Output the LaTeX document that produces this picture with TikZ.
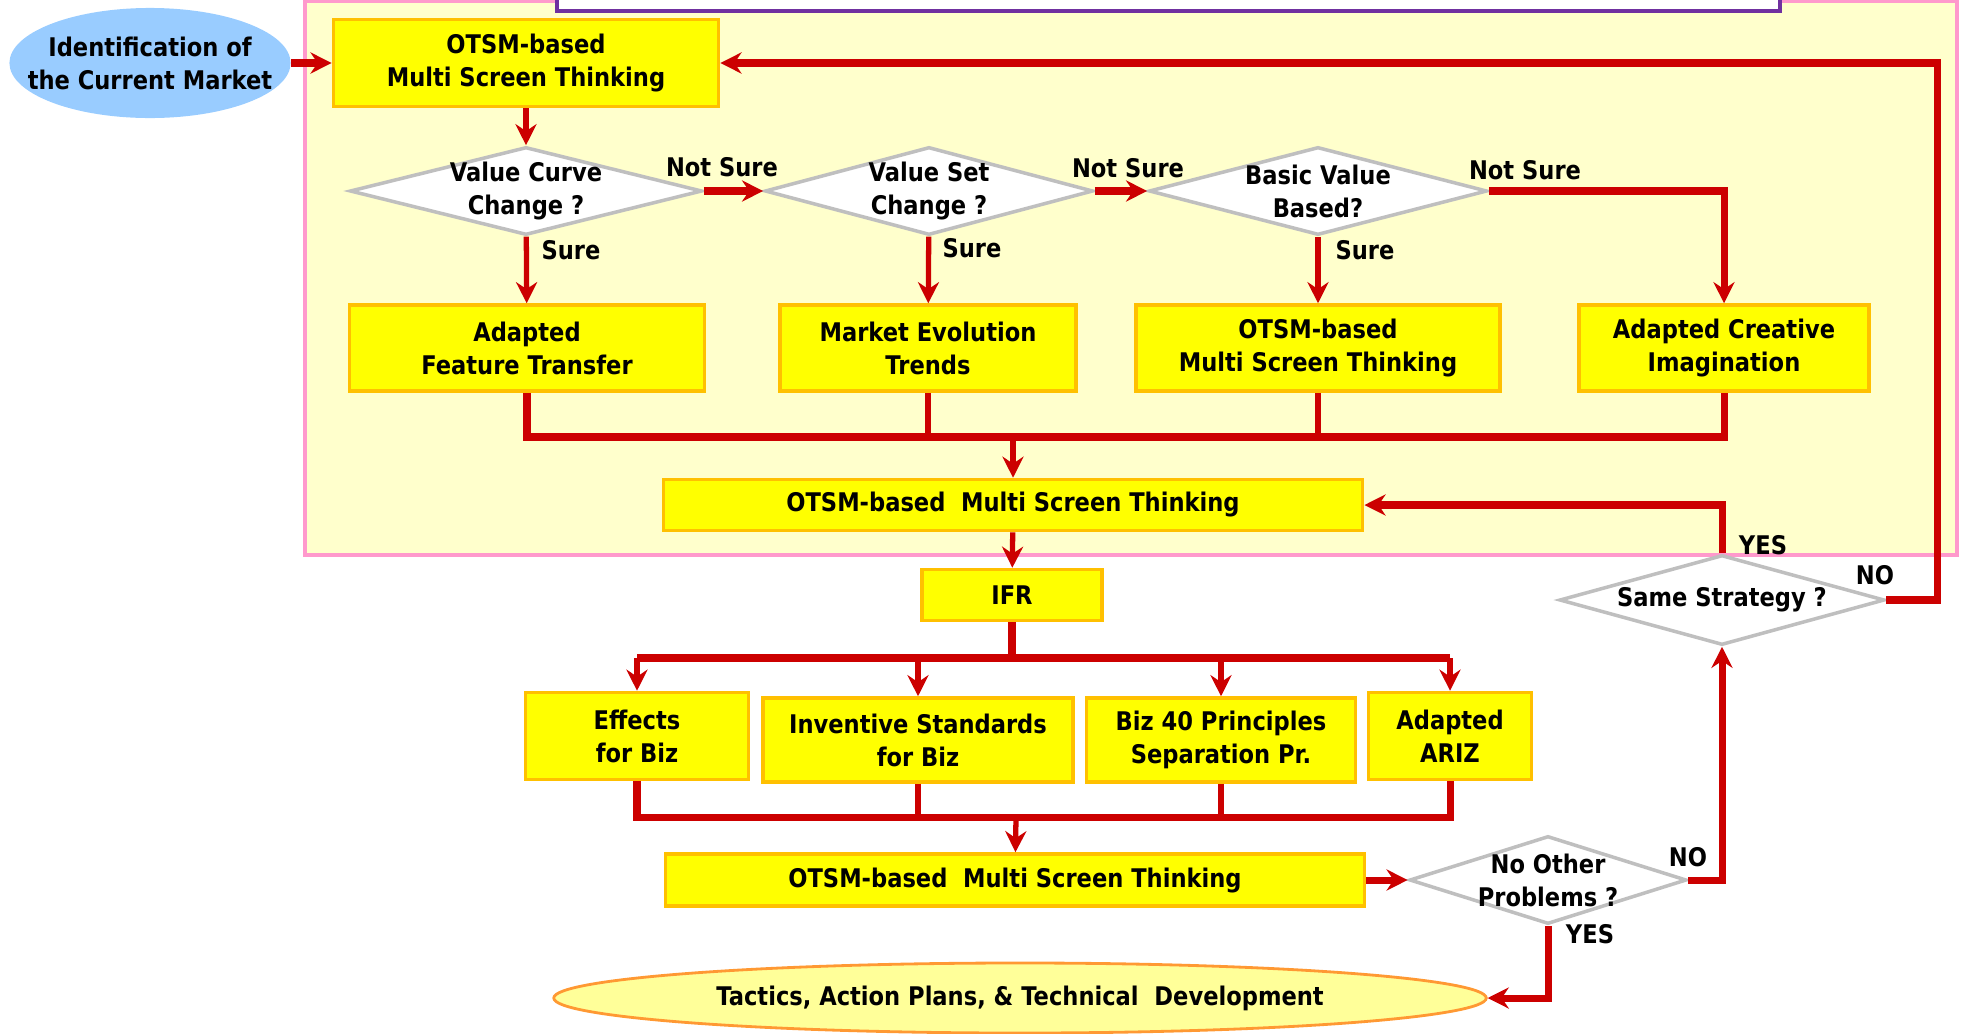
\documentclass[tikz,border=0pt]{standalone}
\usepackage{fontspec}
\setmainfont{DejaVu Sans}[FakeStretch=0.88]
\usetikzlibrary{arrows.meta, shapes.geometric, positioning, calc}

\definecolor{boxyellow}{HTML}{FFFF00}
\definecolor{boxedge}{HTML}{FFC000}
\definecolor{flowred}{HTML}{CC0000}
\definecolor{choiceedge}{HTML}{BFBFBF}
\definecolor{marketblue}{HTML}{99CCFF}
\definecolor{zonefill}{HTML}{FFFFCC}
\definecolor{zoneedge}{HTML}{FF99CC}
\definecolor{topedge}{HTML}{7030A0}
\definecolor{endfill}{HTML}{FFFF99}
\definecolor{endedge}{HTML}{FF9933}

\begin{document}
\begin{tikzpicture}[
                                        x=0.01cm, y=-0.01cm,
                                        >={Stealth[length=6pt, width=6pt, inset=2pt]},
                                        every node/.style={font=\fontsize{7.3}{9.4}\selectfont\bfseries, align=center, inner sep=0pt},
                                        box/.style={rectangle, draw=boxedge, fill=boxyellow, line width=1pt},
                                        choice/.style={diamond, shape aspect=3, inner sep=-4pt, draw=choiceedge, fill=white, line width=1pt},
                                        flow/.style={draw=flowred, line width=2pt},
                                        thinflow/.style={draw=flowred, line width=1.5pt},
                                ]
                                \useasboundingbox (0,0) rectangle (1964,1033);
                                \clip (0,0) rectangle (1964,1033);
                                % background zones
                                \draw[zoneedge, fill=zonefill, line width=0.9pt] (305,1) rectangle (1957,555);
                                \draw[topedge, fill=white, line width=1pt] (557,-40) rectangle (1780,11);

                                % first stage
                                \node[ellipse, fill=marketblue, inner xsep=-0.3cm, minimum width=2.81cm, minimum height=1.1cm] (m) at (150,63) {Identification of\\the Current Market};
                                \node[box, minimum width=3.85cm, minimum height=0.87cm] (o1) at (526,63) {OTSM-based\\Multi Screen Thinking};
                                \node[choice, minimum width=3.52cm, minimum height=0.88cm] (d1) at (526,191) {Value Curve\\Change ?};
                                \node[choice, minimum width=3.28cm, minimum height=0.88cm] (d2) at (929,191) {Value Set\\Change ?};
                                \node[choice, minimum width=3.38cm, minimum height=0.88cm] (d3) at (1318,191) {Basic Value\\Based?};
                                \node[box, minimum width=3.55cm, minimum height=0.86cm] (b1) at (527,348) {Adapted\\Feature Transfer};
                                \node[box, minimum width=2.96cm, minimum height=0.86cm] (b2) at (928,348) {Market Evolution\\Trends};
                                \node[box, minimum width=3.64cm, minimum height=0.86cm] (b3) at (1318,348) {OTSM-based\\Multi Screen Thinking};
                                \node[box, minimum width=2.90cm, minimum height=0.86cm] (b4) at (1724,348) {Adapted Creative\\Imagination};
                                \node[box, minimum width=6.99cm, minimum height=0.51cm] (o2) at (1013,505) {OTSM-based~ Multi Screen Thinking};

                                % second stage
                                \node[box, minimum width=1.80cm, minimum height=0.51cm] (ifr) at (1012,595) {IFR};
                                \node[box, minimum width=2.23cm, minimum height=0.87cm] (e1) at (637,736) {Effects\\for Biz};
                                \node[box, minimum width=3.10cm, minimum height=0.84cm] (e2) at (918,740) {Inventive Standards\\for Biz};
                                \node[box, minimum width=2.69cm, minimum height=0.84cm] (e3) at (1221,740) {Biz 40 Principles\\Separation Pr.};
                                \node[box, minimum width=1.63cm, minimum height=0.87cm] (e4) at (1450,736) {Adapted\\ARIZ};
                                \node[box, minimum width=6.99cm, minimum height=0.52cm] (o3) at (1015,880) {OTSM-based~ Multi Screen Thinking};
                                \node[choice, minimum width=2.77cm, minimum height=0.88cm] (d4) at (1548,880) {No Other\\Problems ?};
                                \node[choice, minimum width=3.25cm, minimum height=0.90cm] (d5) at (1722,600) {Same Strategy ?};
                                \node[ellipse, draw=endedge, fill=endfill, line width=0.8pt, minimum width=9.32cm, minimum height=0.70cm] (t) at (1020,998) {Tactics, Action Plans, \& Technical~ Development};

                                % branch labels
                                \node (ns1) at (722,167) {Not Sure};
                                \node (ns2) at (1128,168) {Not Sure};
                                \node (ns3) at (1525,170) {Not Sure};
                                \node (s1) at (571,250) {Sure};
                                \node (s2) at (972,248) {Sure};
                                \node (s3) at (1365,250) {Sure};
                                \node (y1) at (1763,545) {YES};
                                \node (n1) at (1875,575) {NO};
                                \node (n2) at (1688,857) {NO};
                                \node (y2) at (1590,934) {YES};

                                % junctions
                                \coordinate (j1) at (1013,437);
                                \coordinate (j2) at (1012,658);
                                \coordinate (j3) at (1016,817);

                                % connectors
                                \draw[flow, ->] (m) -- (o1);
                                \draw[thinflow, ->] (o1) -- (d1);
                                \draw[thinflow, ->] (d1) -- (b1);
                                \draw[thinflow, ->] (d2) -- (b2);
                                \draw[thinflow, ->] (d3) -- (b3);
                                \draw[flow, ->] (d1.east) -- (d2.west);
                                \draw[flow, ->] (d2.east) -- (d3.west);
                                \draw[flow, ->] (d3.east) -| (b4.north);
                                \draw[flow] (b1.south) -- (b1.south |- j1) -- (b4.south |- j1) -- (b4.south);
                                \draw[thinflow] (b2.south) -- (b2.south |- j1);
                                \draw[thinflow] (b3.south) -- (b3.south |- j1);
                                \draw[thinflow, ->] (j1) -- (o2);
                                \draw[thinflow, ->] (o2) -- (ifr);
                                \draw[flow] (ifr) -- (j2);
                                \draw[flow] (e1.north |- j2) -- (e4.north |- j2);
                                \foreach \n in {e1, e2, e3, e4}
                                        \draw[thinflow, ->] (\n.north |- j2) -- (\n.north);
                                \draw[flow] (e1.south) -- (e1.south |- j3) -- (e4.south |- j3) -- (e4.south);
                                \draw[thinflow] (e2.south) -- (e2.south |- j3);
                                \draw[thinflow] (e3.south) -- (e3.south |- j3);
                                \draw[thinflow, ->] (j3) -- (o3);
                                \draw[flow, ->] (o3) -- (d4);
                                \draw[flow, ->] (d4.east) -| (d5.south);
                                \draw[flow, ->] (d4.south) |- (t.east);
                                \draw[flow, ->] (d5.north) |- (o2.east);
                                \draw[flow, ->] (d5.east) -- ++(51,0) |- (o1.east);
                        \end{tikzpicture}
\end{document}
